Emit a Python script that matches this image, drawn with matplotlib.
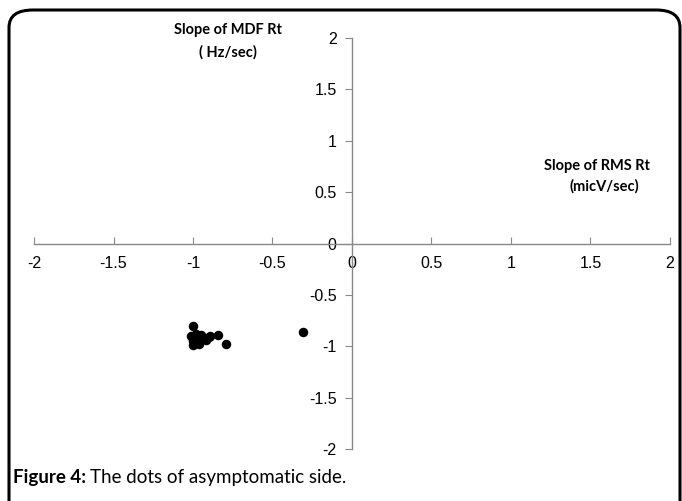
import matplotlib
matplotlib.use("Agg")
import matplotlib.pyplot as plt
from matplotlib.patches import FancyBboxPatch

# slope of RMS (x) vs slope of MDF (y)
rms_slope = [-1.00, -0.84, -0.79, -0.31, -1.01, -0.98, -0.95, -0.99, -0.97,
             -1.00, -0.96, -0.92, -0.90, -0.89, -0.98, -1.00]
mdf_slope = [-0.80, -0.89, -0.98, -0.86, -0.90, -0.88, -0.89, -0.93, -0.94,
             -0.99, -0.98, -0.94, -0.91, -0.90, -0.96, -0.95]

ticks = [-2, -1.5, -1, -0.5, 0, 0.5, 1, 1.5, 2]
tick_labels = ["-2", "-1.5", "-1", "-0.5", "0", "0.5", "1", "1.5", "2"]

W, H = 682, 501
fig = plt.figure(figsize=(W / 100, H / 100), dpi=100)

# rounded frame around the whole figure (bottom runs off the image)
frame = FancyBboxPatch((9 / W, -30 / H), 671 / W, (H - 10 + 30) / H,
                       boxstyle="round,pad=0,rounding_size=0.035",
                       transform=fig.transFigure, fill=False,
                       edgecolor="black", linewidth=2.2, clip_on=False)
fig.patches.append(frame)

ax = fig.add_axes([34 / W, 1 - 449 / H, (670 - 34) / W, (449 - 38) / H])
ax.set_xlim(-2, 2)
ax.set_ylim(-2, 2)

ax.scatter(rms_slope, mdf_slope, s=34, color="black", zorder=3)

for side in ["top", "right"]:
    ax.spines[side].set_visible(False)
ax.spines["left"].set_position(("data", 0))
ax.spines["bottom"].set_position(("data", 0))
for side in ["left", "bottom"]:
    ax.spines[side].set_color("#888888")
    ax.spines[side].set_linewidth(1.0)

tick_font = dict(family=["Liberation Sans", "DejaVu Sans"], size=11.5)
ax.set_xticks(ticks)
ax.set_xticklabels(tick_labels, **tick_font)
ax.set_yticks(ticks)
ax.set_yticklabels(tick_labels, **tick_font)
ax.tick_params(axis="x", direction="in", length=5, color="#888888", pad=9)
ax.tick_params(axis="y", direction="out", length=5, color="#888888", pad=6)

lab_font = dict(family=["Lato", "DejaVu Sans"], size=10.5, weight="bold")
fig.text(228 / W, 1 - 30 / H, "Slope of MDF Rt", ha="center", va="center", **lab_font)
fig.text(228 / W, 1 - 52 / H, "( Hz/sec)", ha="center", va="center", **lab_font)
fig.text(597 / W, 1 - 166 / H, "Slope of RMS Rt", ha="center", va="center", **lab_font)
fig.text(604 / W, 1 - 186 / H, "(micV/sec)", ha="center", va="center", **lab_font)

cap_font = ["Lato", "DejaVu Sans"]
t1 = fig.text(13 / W, 1 - 478 / H, "Figure 4:", ha="left", va="center",
              family=cap_font, size=13.5, weight="bold")
fig.canvas.draw()
bb = t1.get_window_extent()
fig.text((bb.x1 + 4) / W, 1 - 478 / H, "The dots of asymptomatic side.",
         ha="left", va="center", family=cap_font, size=13.5)

fig.savefig("out.png", dpi=100)
